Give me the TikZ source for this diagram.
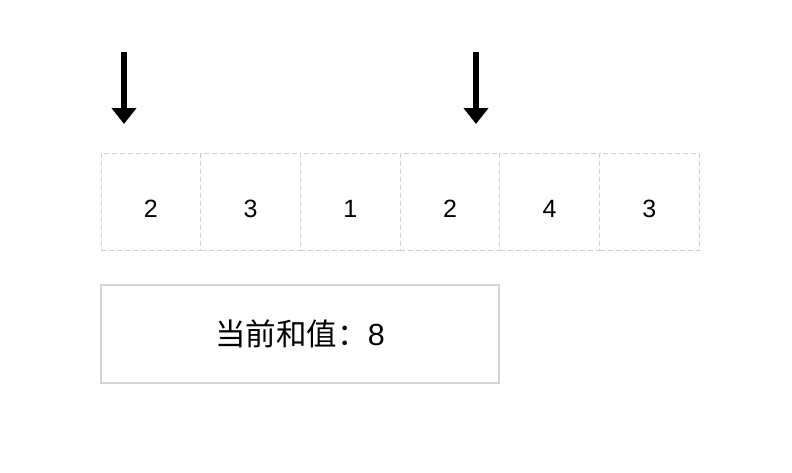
\documentclass[tikz,border=0pt]{standalone}
\usepackage{fontspec}
\setmainfont{Liberation Sans}
\newfontfamily\cjk{Noto Sans CJK SC}
\usepackage{xcolor}
\usepackage{tikz}
\usetikzlibrary{arrows.meta,positioning}
\definecolor{cellgray}{HTML}{D0D0D0}
\definecolor{boxgray}{HTML}{D4D4D4}

\begin{document}
\begin{tikzpicture}[
  x=1pt, y=-1pt,
  cell/.style={draw=cellgray, line width=1pt, dash pattern=on 5pt off 3pt, minimum width=99.7pt, minimum height=97pt, inner sep=0pt, outer sep=0pt, text height=31pt, text depth=0pt, font=\fontsize{25}{25}\selectfont},
  sumbox/.style={draw=boxgray, line width=2pt, minimum width=398pt, minimum height=98pt, inner sep=0pt, outer sep=0pt, font=\fontsize{30.5}{30.5}\selectfont},
  pointer/.style={-{Triangle[width=24pt,length=16pt]}, line width=6pt}
]
\fill[white] (0,0) rectangle (792,472);
\useasboundingbox (0,0) rectangle (792,472);

\node[cell, anchor=north west] (c1) at (101,153) {2};
\node[cell, right=0pt of c1] (c2) {3};
\node[cell, right=0pt of c2] (c3) {1};
\node[cell, right=0pt of c3] (c4) {2};
\node[cell, right=0pt of c4] (c5) {4};
\node[cell, right=0pt of c5] (c6) {3};

\node[sumbox, below=35pt of c1.south west, anchor=north west] (sum) {{\cjk 当前和值：}8};

\coordinate (p1top) at (124,52);
\coordinate (p1end) at (124,124);
\coordinate (p2top) at (476,52);
\coordinate (p2end) at (476,124);

\draw[pointer] (p1top) -- (p1end);
\draw[pointer] (p2top) -- (p2end);
\end{tikzpicture}
\end{document}
